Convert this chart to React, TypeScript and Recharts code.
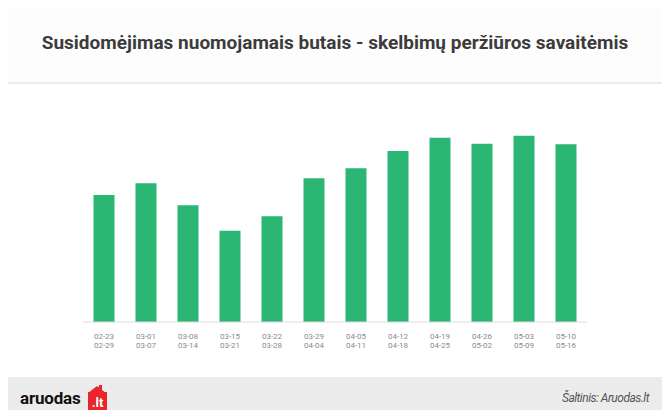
import React from "react";
import { BarChart, Bar, XAxis, YAxis } from "recharts";

const weekStarts = ["02-23", "03-01", "03-08", "03-15", "03-22", "03-29", "04-05", "04-12", "04-19", "04-26", "05-03", "05-10"];
const weekEnds = ["02-29", "03-07", "03-14", "03-21", "03-28", "04-04", "04-11", "04-18", "04-25", "05-02", "05-09", "05-16"];
const views = [127, 138.7, 116.7, 91.3, 105.7, 143.7, 153.7, 171, 184.3, 178.3, 186.3, 177.7];
const boundaryTicks = [0, 1, 2, 3, 4, 5, 6, 7, 8, 9, 10, 11, 12];

const data = weekStarts.map((s, i) => ({ start: s, end: weekEnds[i], idx: i, views: views[i] }));

const DateTick = (props: any) => {
  const { x, y, payload } = props;
  const i = weekStarts.indexOf(payload.value);
  return (
    <text x={x} y={y} textAnchor="middle" fill="#8a8a8a" fontSize={8} fontFamily="Roboto, sans-serif">
      <tspan x={x} dy={17}>{payload.value}</tspan>
      <tspan x={x} dy={9}>{weekEnds[i]}</tspan>
    </text>
  );
};

export default function App() {
  return (
    <div style={{ position: "relative", width: 670, height: 418, margin: -8, background: "#fff", overflow: "hidden", fontFamily: "Roboto, sans-serif" }}>
      <div style={{ position: "absolute", left: 0, top: 0, width: 670, height: 84, background: "#fdfdfd", borderBottom: "2px solid #ebebeb", boxSizing: "border-box" }} />
      <div style={{ position: "absolute", left: 0, top: 31, width: 670, textAlign: "center", fontSize: 19, fontWeight: 700, color: "#3b3b3b", letterSpacing: 0 }}>
        Susidomėjimas nuomojamais butais - skelbimų peržiūros savaitėmis
      </div>
      <div style={{ position: "absolute", left: 0, top: 0 }}>
        <BarChart width={670} height={418} data={data} margin={{ top: 122, right: 83, left: 83, bottom: 66 }} barCategoryGap="25%">
          <YAxis hide domain={[0, 200]} />
          <XAxis xAxisId="bound" type="number" dataKey="idx" domain={[0, 12]} ticks={boundaryTicks} tick={false} mirror tickSize={4} stroke="#dcdcdc" allowDataOverflow />
          <XAxis dataKey="start" height={30} axisLine={false} tickLine={false} tickSize={0} tickMargin={0} interval={0} tick={<DateTick />} />
          <Bar dataKey="views" fill="#2bb673" isAnimationActive={false} />
        </BarChart>
      </div>
      <div style={{ position: "absolute", left: 0, top: 377, width: 670, height: 41, background: "#ececec" }} />
      <div style={{ position: "absolute", left: 20, top: 388, fontSize: 17, fontWeight: 700, color: "#111", letterSpacing: -0.2, lineHeight: "20px" }}>
        aruodas
      </div>
      <div style={{ position: "absolute", left: 88, top: 392, width: 19, height: 20, background: "#e8262b", color: "#fff", fontSize: 13, fontWeight: 700, lineHeight: "22px", textAlign: "center" }}>
        .lt
      </div>
      <div style={{ position: "absolute", left: 88, top: 386, width: 0, height: 0, borderLeft: "9.5px solid transparent", borderRight: "9.5px solid transparent", borderBottom: "7px solid #e8262b" }} />
      <div style={{ position: "absolute", left: 99, top: 385, width: 3, height: 5, background: "#e8262b" }} />
      <div style={{ position: "absolute", right: 21, top: 391, fontSize: 12, fontStyle: "italic", color: "#555", letterSpacing: -0.5 }}>
        Šaltinis: Aruodas.lt
      </div>
    </div>
  );
}
